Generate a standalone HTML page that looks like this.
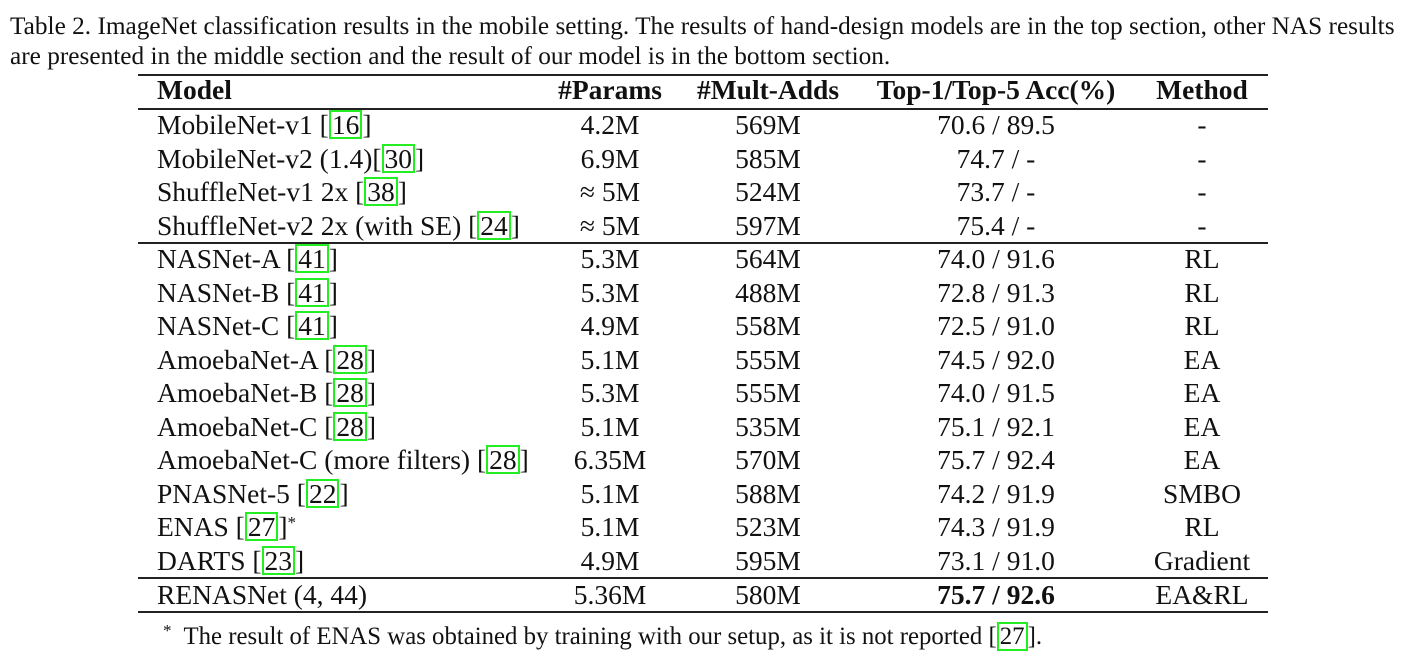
<!DOCTYPE html>
<html><head><meta charset="utf-8"><style>
body{margin:0;width:1409px;height:666px;background:#fff;font-family:"Liberation Serif",serif;color:#111;position:relative;overflow:hidden}
.cap{position:absolute;left:10px;font-size:25.3px;white-space:nowrap}
.hl{position:absolute;left:138px;width:1130px;height:1.5px;background:#222}
.row{position:absolute;left:0;width:1409px;height:33.5px;line-height:33.5px;font-size:27.5px}
.row>span{position:absolute;white-space:nowrap}
.m{left:157px}
.c{transform:translateX(-50%)}
.p{left:610px}.a{left:768px}.t{left:996px}.me{left:1202px}
.hd{font-weight:bold}
.r{border:2px solid #22ee22;padding:0 1px;line-height:25px;display:inline-block;position:static}
sup{line-height:0;font-size:17px;vertical-align:8px}
</style></head><body>
<div class="cap" style="top:12px">Table 2. ImageNet classification results in the mobile setting. The results of hand-design models are in the top section, other NAS results</div>
<div class="cap" style="top:42px">are presented in the middle section and the result of our model is in the bottom section.</div>
<div class="hl" style="top:74px"></div>
<div class="hl" style="top:108px"></div>
<div class="hl" style="top:242px"></div>
<div class="hl" style="top:577px"></div>
<div class="hl" style="top:611px"></div>
<div class="row hd" style="top:73px"><span class="m">Model</span><span class="p c">#Params</span><span class="a c">#Mult-Adds</span><span class="t c">Top-1/Top-5 Acc(%)</span><span class="me c">Method</span></div>
<div id="rows"></div>
<div style="position:absolute;top:622px;left:163px;font-size:24.8px;white-space:nowrap"><sup>*</sup>&nbsp; The result of ENAS was obtained by training with our setup, as it is not reported [<span class="r">27</span>].</div>
<script>
const models=['MobileNet-v1 [<span class="r">16</span>]','MobileNet-v2 (1.4)[<span class="r">30</span>]','ShuffleNet-v1 2x [<span class="r">38</span>]','ShuffleNet-v2 2x (with SE) [<span class="r">24</span>]','NASNet-A [<span class="r">41</span>]','NASNet-B [<span class="r">41</span>]','NASNet-C [<span class="r">41</span>]','AmoebaNet-A [<span class="r">28</span>]','AmoebaNet-B [<span class="r">28</span>]','AmoebaNet-C [<span class="r">28</span>]','AmoebaNet-C (more filters) [<span class="r">28</span>]','PNASNet-5 [<span class="r">22</span>]','ENAS [<span class="r">27</span>]<sup>*</sup>','DARTS [<span class="r">23</span>]','RENASNet (4, 44)'];
const params=['4.2M','6.9M','≈ 5M','≈ 5M','5.3M','5.3M','4.9M','5.1M','5.3M','5.1M','6.35M','5.1M','5.1M','4.9M','5.36M'];
const madds=['569M','585M','524M','597M','564M','488M','558M','555M','555M','535M','570M','588M','523M','595M','580M'];
const accs=['70.6 / 89.5','74.7 / -','73.7 / -','75.4 / -','74.0 / 91.6','72.8 / 91.3','72.5 / 91.0','74.5 / 92.0','74.0 / 91.5','75.1 / 92.1','75.7 / 92.4','74.2 / 91.9','74.3 / 91.9','73.1 / 91.0','<b>75.7 / 92.6</b>'];
const methods=['-','-','-','-','RL','RL','RL','EA','EA','EA','EA','SMBO','RL','Gradient','EA&amp;RL'];
const host=document.getElementById('rows');
models.forEach((m,i)=>{
  const d=document.createElement('div');
  d.className='row';
  const top=108+i*33.5+(i==14?1:0);
  d.style.top=top+'px';
  
  
  d.innerHTML=`<span class="m">${m}</span><span class="p c">${params[i]}</span><span class="a c">${madds[i]}</span><span class="t c">${accs[i]}</span><span class="me c">${methods[i]}</span>`;
  host.appendChild(d);
});
</script>
</body></html>
